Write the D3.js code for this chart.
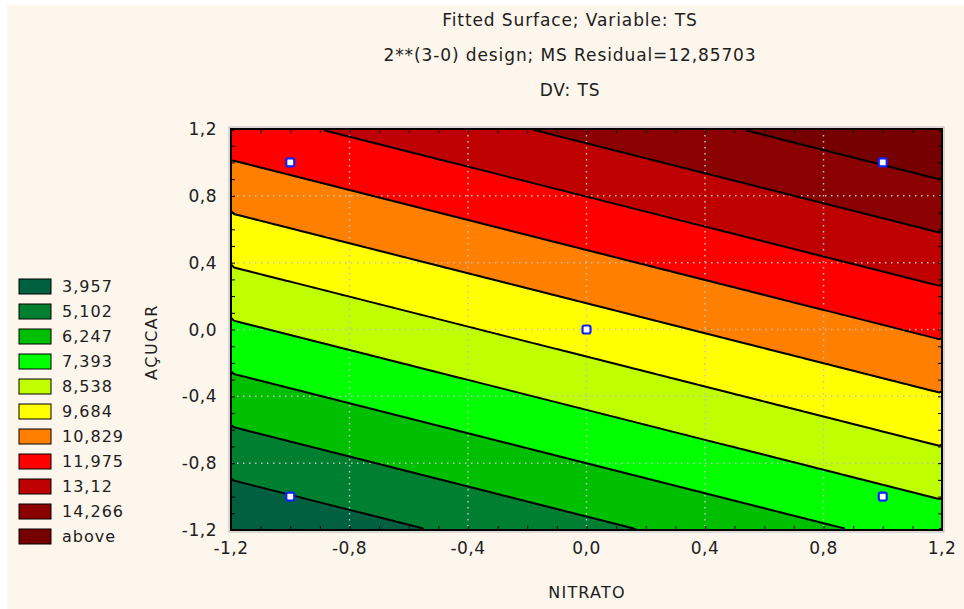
<!DOCTYPE html>
<html>
<head>
<meta charset="utf-8">
<script src="https://cdn.jsdelivr.net/npm/d3@7"></script>
<style>
  body { margin: 0; background: #ffffff; }
  svg text { font-family: "DejaVu Sans", sans-serif; fill: #202020; }
</style>
</head>
<body>
<svg id="chart" width="964" height="609"></svg>
<script>
// Fitted surface TS = b0 + b1*NITRATO + b2*ACUCAR, coefficients
var coefNames = ["intercept", "NITRATO", "AÇUCAR"];
var coefValues = [9.12, 1.61, 3.59];

// contour levels (upper bound of each class) and class colours
var levels = [3.957, 5.102, 6.247, 7.393, 8.538, 9.684, 10.829, 11.975, 13.12, 14.266];
var legendLabels = ["3,957", "5,102", "6,247", "7,393", "8,538", "9,684", "10,829", "11,975", "13,12", "14,266", "above"];
var classColors = ["#006040", "#007f30", "#00bf00", "#00ff00", "#bfff00", "#ffff00",
                   "#ff8000", "#ff0000", "#bf0000", "#8b0000", "#760000"];

// design points (2^2 corners + centre)
var designX = [-1, -1, 1, 1, 0];
var designY = [-1, 1, -1, 1, 0];

var axisTicks = [-1.2, -0.8, -0.4, 0.0, 0.4, 0.8, 1.2];
var titleLines = ["Fitted Surface; Variable: TS", "2**(3-0) design; MS Residual=12,85703", "DV: TS"];

var plot = { left: 231, top: 129, right: 942, bottom: 530 };
var svg = d3.select("#chart");

var locale = d3.formatLocale({ decimal: ",", thousands: ".", grouping: [3], currency: ["", ""], minus: "-" });
var fmt = function (v) {
  return Math.abs(v) < 1e-9 ? "0,0" : locale.format(".1f")(v);
};

var x = d3.scaleLinear().domain([-1.2, 1.2]).range([plot.left, plot.right]);
var y = d3.scaleLinear().domain([-1.2, 1.2]).range([plot.bottom, plot.top]);

// background
svg.append("rect").attr("x", 7).attr("y", 5).attr("width", 957).attr("height", 604).attr("fill", "#fdf6ec");

// titles
svg.selectAll("text.title").data(titleLines).enter().append("text")
  .attr("class", "title")
  .attr("x", 570)
  .attr("y", function (d, i) { return 26 + i * 35; })
  .attr("text-anchor", "middle")
  .style("font-size", "17px")
  .style("letter-spacing", "0.9px")
  .text(function (d) { return d; });

// surface grid
var n = 120;
var values = new Array(n * n);
for (var j = 0; j < n; j++) {
  for (var i = 0; i < n; i++) {
    var gx = -1.2 + (i + 0.5) * 2.4 / n;
    var gy = 1.2 - (j + 0.5) * 2.4 / n;
    values[j * n + i] = coefValues[0] + coefValues[1] * gx + coefValues[2] * gy;
  }
}
var contours = d3.contours().size([n, n]).thresholds(levels)(values);

var gridToPx = d3.geoTransform({
  point: function (px, py) {
    this.stream.point(x(-1.2 + px * 2.4 / n), y(1.2 - py * 2.4 / n));
  }
});
var path = d3.geoPath(gridToPx);

svg.append("clipPath").attr("id", "plotClip").append("rect")
  .attr("x", plot.left).attr("y", plot.top)
  .attr("width", plot.right - plot.left).attr("height", plot.bottom - plot.top);

var area = svg.append("g").attr("clip-path", "url(#plotClip)");

area.append("rect")
  .attr("x", plot.left).attr("y", plot.top)
  .attr("width", plot.right - plot.left).attr("height", plot.bottom - plot.top)
  .attr("fill", classColors[0]);

area.selectAll("path.band").data(contours).enter().append("path")
  .attr("class", "band")
  .attr("d", path)
  .attr("fill", function (d, k) { return classColors[k + 1]; });

// dotted grid
var inner = axisTicks.slice(1, -1);
area.selectAll("line.gx").data(inner).enter().append("line")
  .attr("x1", function (d) { return x(d); }).attr("x2", function (d) { return x(d); })
  .attr("y1", plot.top).attr("y2", plot.bottom)
  .attr("stroke", "#c0c0c0").attr("stroke-width", 1.5).attr("stroke-dasharray", "1.5,4.5");
area.selectAll("line.gy").data(inner).enter().append("line")
  .attr("y1", function (d) { return y(d); }).attr("y2", function (d) { return y(d); })
  .attr("x1", plot.left).attr("x2", plot.right)
  .attr("stroke", "#c0c0c0").attr("stroke-width", 1.5).attr("stroke-dasharray", "1.5,4.5");

// contour lines
area.selectAll("path.line").data(contours).enter().append("path")
  .attr("d", path)
  .attr("fill", "none")
  .attr("stroke", "#000")
  .attr("stroke-width", 2);

// frame
svg.append("rect")
  .attr("x", plot.left - 2).attr("y", plot.top - 2)
  .attr("width", plot.right - plot.left + 4).attr("height", plot.bottom - plot.top + 4)
  .attr("fill", "none").attr("stroke", "#b8b8b8").attr("stroke-width", 1);
svg.append("rect")
  .attr("x", plot.left).attr("y", plot.top)
  .attr("width", plot.right - plot.left).attr("height", plot.bottom - plot.top)
  .attr("fill", "none").attr("stroke", "#000").attr("stroke-width", 2);

// inward ticks on all four sides
var minor = d3.range(-12, 13).map(function (k) { return k / 10; });
var tickLen = 4;
svg.append("g").attr("transform", "translate(0," + plot.bottom + ")")
  .call(d3.axisBottom(x).tickValues(minor).tickSize(-tickLen).tickFormat(""))
  .call(function (g) { g.select(".domain").remove(); });
svg.append("g").attr("transform", "translate(0," + plot.top + ")")
  .call(d3.axisTop(x).tickValues(minor).tickSize(-tickLen).tickFormat(""))
  .call(function (g) { g.select(".domain").remove(); });
svg.append("g").attr("transform", "translate(" + plot.left + ",0)")
  .call(d3.axisLeft(y).tickValues(minor).tickSize(-tickLen).tickFormat(""))
  .call(function (g) { g.select(".domain").remove(); });
svg.append("g").attr("transform", "translate(" + plot.right + ",0)")
  .call(d3.axisRight(y).tickValues(minor).tickSize(-tickLen).tickFormat(""))
  .call(function (g) { g.select(".domain").remove(); });

// tick labels
svg.selectAll("text.xl").data(axisTicks).enter().append("text")
  .attr("x", function (d) { return x(d); })
  .attr("y", 554)
  .attr("text-anchor", "middle")
  .style("font-size", "17px")
  .style("letter-spacing", "0.5px")
  .text(fmt);
svg.selectAll("text.yl").data(axisTicks).enter().append("text")
  .attr("x", 217)
  .attr("y", function (d) { return y(d) + 6; })
  .attr("text-anchor", "end")
  .style("font-size", "17px")
  .style("letter-spacing", "0.5px")
  .text(fmt);

// axis titles
svg.append("text")
  .attr("x", 587).attr("y", 598)
  .attr("text-anchor", "middle")
  .style("font-size", "16px")
  .style("letter-spacing", "1.2px")
  .text("NITRATO");
svg.append("text")
  .attr("transform", "translate(157,342) rotate(-90)")
  .attr("text-anchor", "middle")
  .style("font-size", "16px")
  .style("letter-spacing", "1.5px")
  .text("AÇUCAR");

// design points
svg.selectAll("rect.pt").data(designX).enter().append("rect")
  .attr("x", function (d) { return x(d) - 4; })
  .attr("y", function (d, k) { return y(designY[k]) - 4; })
  .attr("width", 8).attr("height", 8)
  .attr("rx", 2)
  .attr("fill", "#fff")
  .attr("stroke", "#1020ff")
  .attr("stroke-width", 2.2);

// legend
var leg = svg.selectAll("g.leg").data(legendLabels).enter().append("g")
  .attr("transform", function (d, k) { return "translate(19," + (279 + k * 25) + ")"; });
leg.append("rect")
  .attr("width", 32).attr("height", 15)
  .attr("fill", function (d, k) { return classColors[k]; })
  .attr("stroke", "#000").attr("stroke-width", 1);
leg.append("text")
  .attr("x", 43).attr("y", 13)
  .style("font-size", "16px")
  .style("letter-spacing", "1px")
  .text(function (d) { return d; });
</script>
</body>
</html>
